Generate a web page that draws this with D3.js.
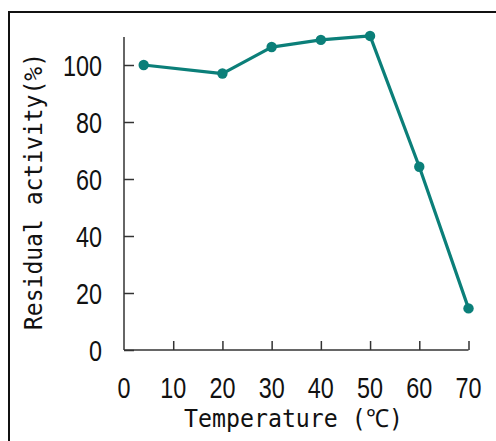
<!DOCTYPE html>
<html><head><meta charset="utf-8">
<script src="https://cdn.jsdelivr.net/npm/d3@7"></script>
<style>html,body{margin:0;padding:0;background:#fff;}</style>
</head><body>
<script>
const temperatures = [4, 20, 30, 40, 50, 60, 70];
const activity = [100, 97, 106.3, 108.8, 110.2, 64.3, 14.6];
const xTicks = [0, 10, 20, 30, 40, 50, 60, 70];
const yTicks = [0, 20, 40, 60, 80, 100];
const xTitle = "Temperature (℃)";
const yTitle = "Residual activity(%)";

const W = 496, H = 441;
const svg = d3.select("body").append("svg").attr("width", W).attr("height", H);

// frame
svg.append("path").attr("d", `M9,${H} V12 H${W}`).attr("fill", "none").attr("stroke", "#111").attr("stroke-width", 2);

const x = d3.scaleLinear().domain([0, 70]).range([124, 468.5]);
const y = d3.scaleLinear().domain([0, 100]).range([350, 65]);
const axisColor = "#333";
const numFont = "'Liberation Sans',sans-serif";
const digitW = 13;

// y axis
const ya = svg.append("g").attr("transform", `translate(${x(0)},0)`)
  .call(d3.axisRight(y).tickValues(yTicks).tickSize(10).tickFormat(""));
ya.select(".domain").remove();
ya.selectAll(".tick line").attr("stroke", axisColor).attr("stroke-width", 1.5);
svg.append("line").attr("x1", x(0)).attr("x2", x(0)).attr("y1", y(0)).attr("y2", y(109.8))
  .attr("stroke", axisColor).attr("stroke-width", 1.5);
svg.append("g").selectAll("text").data(yTicks).join("text")
  .attr("x", 102).attr("y", d => y(d) + 10.5).attr("text-anchor", "end")
  .attr("textLength", d => String(d).length * digitW).attr("lengthAdjust", "spacingAndGlyphs")
  .attr("font-family", numFont).attr("font-size", 29).attr("fill", "#111").text(d => d);

// x axis
const xa = svg.append("g").attr("transform", `translate(0,${y(0)})`)
  .call(d3.axisTop(x).tickValues(xTicks.filter(d => d > 0)).tickSize(9).tickFormat(""));
xa.select(".domain").remove();
xa.selectAll(".tick line").attr("stroke", axisColor).attr("stroke-width", 1.5);
svg.append("line").attr("x1", x(0)).attr("x2", x(70)).attr("y1", y(0)).attr("y2", y(0))
  .attr("stroke", axisColor).attr("stroke-width", 1.5);
svg.append("g").selectAll("text").data(xTicks).join("text")
  .attr("x", d => x(d)).attr("y", 398).attr("text-anchor", "middle")
  .attr("textLength", d => String(d).length * digitW).attr("lengthAdjust", "spacingAndGlyphs")
  .attr("font-family", numFont).attr("font-size", 29).attr("fill", "#111").text(d => d);

// titles
svg.append("text").attr("x", 184).attr("y", 427).attr("textLength", 219).attr("lengthAdjust", "spacingAndGlyphs")
  .attr("font-family", "'DejaVu Sans Mono',monospace").attr("font-size", 25).attr("fill", "#111").text(xTitle);
svg.append("text").attr("transform", "translate(42,330) rotate(-90)").attr("textLength", 277).attr("lengthAdjust", "spacingAndGlyphs")
  .attr("font-family", "'DejaVu Sans Mono',monospace").attr("font-size", 25).attr("fill", "#111").text(yTitle);

// line + points
const teal = "#0b7f79";
svg.append("path").datum(temperatures.map((t, i) => [t, activity[i]]))
  .attr("fill", "none").attr("stroke", teal).attr("stroke-width", 3.2).attr("stroke-linejoin", "round")
  .attr("d", d3.line().x(d => x(d[0])).y(d => y(d[1])));
svg.append("g").selectAll("circle").data(temperatures.map((t, i) => [t, activity[i]])).join("circle")
  .attr("cx", d => x(d[0])).attr("cy", d => y(d[1])).attr("r", 5.2).attr("fill", teal);
</script>
</body></html>
